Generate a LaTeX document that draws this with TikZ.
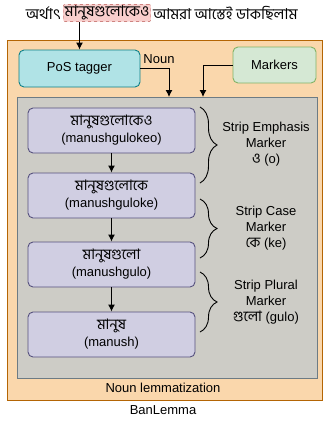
\documentclass[tikz,border=0pt]{standalone}
\usepackage{fontspec}
\usepackage{xcolor}
\usetikzlibrary{positioning, arrows.meta, decorations.pathreplacing}
\setmainfont{Liberation Sans}
\newfontfamily\bnfont[Script=Bengali]{Hind Siliguri}

\definecolor{pinkfill}{HTML}{F8CECC}
\definecolor{pinkline}{HTML}{B85450}
\definecolor{orangefill}{HTML}{FAD7AC}
\definecolor{orangeline}{HTML}{B46504}
\definecolor{tealfill}{HTML}{B0E3E6}
\definecolor{tealline}{HTML}{0E8088}
\definecolor{greenfill}{HTML}{D5E8D4}
\definecolor{greenline}{HTML}{82B366}
\definecolor{grayfill}{HTML}{CDCCC6}
\definecolor{grayline}{HTML}{6D7B84}
\definecolor{purplefill}{HTML}{D0CEE2}
\definecolor{purpleline}{HTML}{56517E}

\begin{document}
\begin{tikzpicture}[x=1pt, y=-1pt,
        every node/.style={font=\fontsize{13}{16}\selectfont},
        bn/.style={font=\fontsize{15}{16}\selectfont\bnfont},
        wordbox/.style={draw=purpleline, fill=purplefill, rounded corners=5pt,
            line width=0.9pt, minimum width=167pt, minimum height=45pt, align=center},
        arr/.style={-{Latex[length=7pt, width=7pt]}, line width=1pt},
        brc/.style={decorate, decoration={brace, amplitude=17pt}, line width=0.9pt},
        brclabel/.style={align=center, font=\fontsize{13}{16}\selectfont}]
        \useasboundingbox (0, 0) rectangle (326, 421);

        % containers
        \node[draw=orangeline, fill=orangefill, line width=0.9pt, minimum width=315pt,
            minimum height=360pt, anchor=north west](outer) at (7, 40) {};
        \node[draw=grayline, fill=grayfill, line width=0.9pt, minimum width=300pt,
            minimum height=281pt, anchor=north west](inner) at (17, 97) {};
        \node(lemma) at (163, 388) {Noun lemmatization};
        \node(banlemma) at (163, 410) {BanLemma};

        % input sentence
        \node[draw=pinkline, fill=pinkfill, dashed, rounded corners=2pt, inner sep=1.5pt,
            bn](word) at (107, 13) {মানুষগুলোকেও};
        \node[left=1pt of word, inner sep=1pt, bn](w1) {অর্থাৎ};
        \node[right=1pt of word, inner sep=1pt, bn](w2) {আমরা আস্তেই ডাকছিলাম};

        \node[draw=tealline, fill=tealfill, rounded corners=5pt, line width=0.9pt,
            minimum width=121pt, minimum height=37pt](pos) at (79.5, 68.5) {PoS tagger};
        \node[draw=greenline, fill=greenfill, rounded corners=5pt, line width=0.9pt,
            minimum width=83pt, minimum height=36pt](markers) at (274.5, 65) {Markers};
        \node(noun) at (159, 59) {Noun};

        % words
        \node[wordbox](m1) at (111.5, 130.5) {{\bnfont\fontsize{14.5}{15}\selectfont মানুষগুলোকেও}\\[1pt](manushgulokeo)};
        \node[wordbox](m2) at (111.5, 195.5) {{\bnfont\fontsize{14.5}{15}\selectfont মানুষগুলোকে}\\[1pt](manushguloke)};
        \node[wordbox](m3) at (111.5, 264.5) {{\bnfont\fontsize{14.5}{15}\selectfont মানুষগুলো}\\[1pt](manushgulo)};
        \node[wordbox](m4) at (111.5, 334.5) {{\bnfont\fontsize{14.5}{15}\selectfont মানুষ}\\[1pt](manush)};

        \coordinate(b1s) at (200, 107);
        \coordinate(b1e) at (200, 183);
        \coordinate(b2s) at (200, 199);
        \coordinate(b2e) at (200, 258);
        \coordinate(b3s) at (200, 272);
        \coordinate(b3e) at (200, 332);
        \node[brclabel](s1) at (266, 144) {Strip Emphasis\\Marker\\{\bnfont\fontsize{14.5}{15}\selectfont ও} (o)};
        \node[brclabel](s2) at (266, 228) {Strip Case\\Marker\\{\bnfont\fontsize{14.5}{15}\selectfont কে} (ke)};
        \node[brclabel](s3) at (266, 302) {Strip Plural\\Marker\\{\bnfont\fontsize{14.5}{15}\selectfont গুলো} (gulo)};

        \coordinate(noundown) at (169, 97);
        \coordinate(markdown) at (203, 97);

        \draw[arr] (word.south -| pos.north) -- (pos.north);
        \draw[arr] (pos.east) -- (pos.east -| noundown) -- (noundown);
        \draw[arr] (markers.west) -- (markers.west -| markdown) -- (markdown);
        \draw[arr] (m1) -- (m2);
        \draw[arr] (m2) -- (m3);
        \draw[arr] (m3) -- (m4);
        \draw[brc] (b1s) -- (b1e);
        \draw[brc] (b2s) -- (b2e);
        \draw[brc] (b3s) -- (b3e);
\end{tikzpicture}
\end{document}
